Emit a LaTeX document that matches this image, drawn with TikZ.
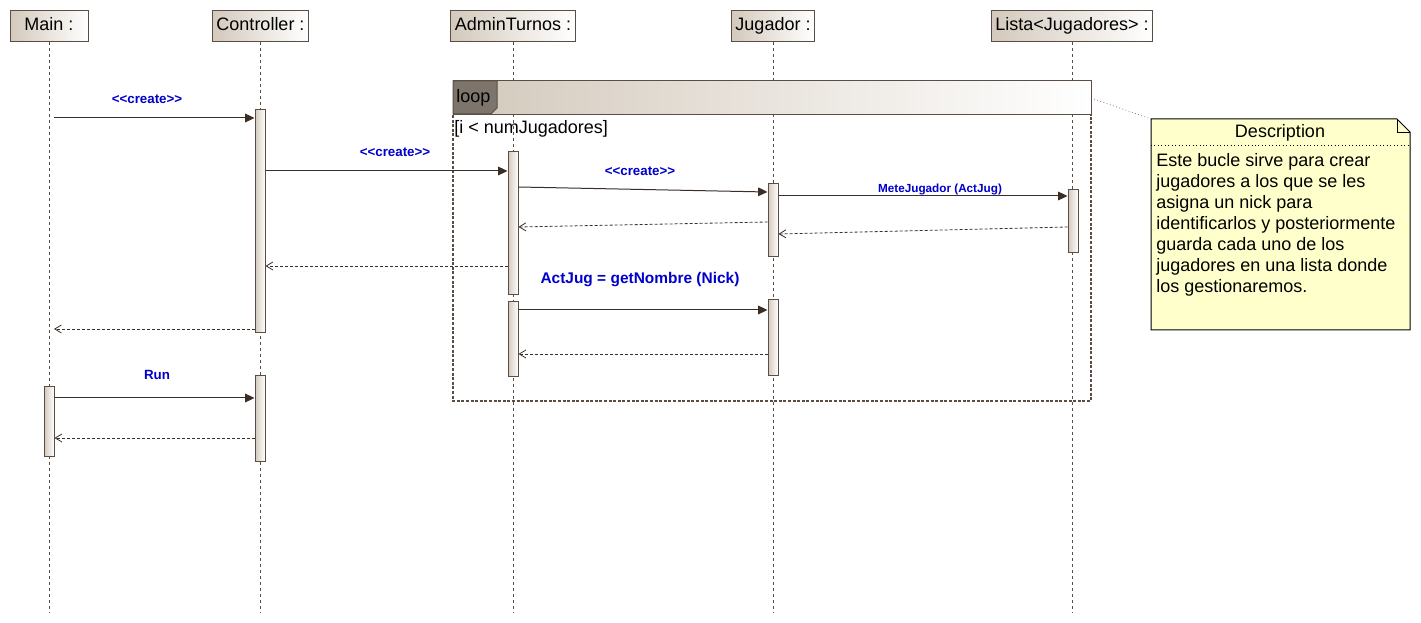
\documentclass[tikz,border=0pt]{standalone}
\usepackage{fontspec}
\setmainfont{Liberation Sans}
\usetikzlibrary{arrows.meta}
\definecolor{edge}{HTML}{5A4E44}
\definecolor{ink}{HTML}{3A2E26}
\definecolor{tan}{HTML}{D3C9BC}
\definecolor{msgblue}{HTML}{0000CC}
\definecolor{notefill}{HTML}{FFFFCC}
\definecolor{tabgrey}{HTML}{7D756C}
\def\actbar(#1)(#2:#3:#4){\node[bar, minimum height={(#4-#3)*0.75pt}] (#1) at (#2,{(#3+#4)/2}) {};}

\begin{document}
\begin{tikzpicture}[x=0.75pt, y=-0.75pt,
	head/.style={draw=edge, line width=0.75pt, left color=tan, right color=white, minimum width=58.5pt, minimum height=23.25pt, inner xsep=3pt, text height=9.8pt, text depth=2.8pt, font=\fontsize{13.5}{16}\selectfont},
	lifeline/.style={draw=edge, line width=0.6pt, dash pattern=on 2.25pt off 2.25pt},
	bar/.style={draw=edge, line width=0.75pt, left color=tan, right color=white, minimum width=7.5pt, inner sep=0pt},
	msg/.style={draw=ink, line width=0.75pt, -{Triangle[length=7pt,width=6.5pt]}},
	ret/.style={draw=ink, line width=0.6pt, dash pattern=on 2.25pt off 1.5pt, -{Straight Barb[length=5pt,width=6pt]}},
	lbl/.style={text=msgblue, font=\bfseries\fontsize{10}{12}\selectfont}]
		%%%%% START %%%%%
		\useasboundingbox (0,0) rectangle (1421,623);
		\coordinate (bot) at (0,613);
		
		% lifelines
		\node[head] (main) at (49,26) {Main :};
		\node[head] (ctl) at (260.5,26) {Controller :};
		\node[head] (adm) at (513,26) {AdminTurnos :};
		\node[head] (jug) at (773,26) {Jugador :};
		\node[head] (lst) at (1072,26) {Lista<Jugadores> :};
		\foreach \n in {main,ctl,adm,jug,lst}
			\draw[lifeline] (\n.south) -- (\n |- bot);
		
		% loop frame
		\draw[draw=edge, line width=1pt, dash pattern=on 2.25pt off 1.2pt] (453,115) -- (453,401) -- (1091,401) -- (1091,115);
		\draw[draw=edge, line width=0.75pt, left color=tan, right color=white] (453,81) rectangle (1091,115);
		\draw[draw=edge, line width=0.75pt, fill=tabgrey] (453,81) -- (497,81) -- (497,108) -- (491,114) -- (453,114) -- cycle;
		\node[anchor=west, inner sep=0pt, font=\fontsize{13.5}{16}\selectfont] (looptag) at (456,98) {loop};
		\node[anchor=west, inner sep=0pt, font=\fontsize{13.5}{16}\selectfont] (guard) at (454,129) {[i < numJugadores]};
		
		% activations
		\actbar(ctlA)(260:110:333)
		\actbar(ctlB)(260:376:462)
		\actbar(admA)(513:152:295)
		\actbar(admB)(513:302:377)
		\actbar(jugA)(773:184:257)
		\actbar(jugB)(773:300:376)
		\actbar(lstA)(1073:190:253)
		\actbar(mainA)(49:387:457)
		
		% messages
		\draw[msg] ([xshift=3.75pt]main |- 0,118) -- (ctlA.west |- 0,118);
		\node[lbl] (l1) at (147,99) {<{}<create>{}>};
		\draw[msg] (ctlA.east |- 0,171) -- (admA.west |- 0,171);
		\node[lbl] (l2) at (395,152) {<{}<create>{}>};
		\draw[msg] (admA.east |- 0,187) -- (jugA.west |- 0,192);
		\node[lbl] (l3) at (640,171) {<{}<create>{}>};
		\draw[msg] (jugA.east |- 0,196) -- (lstA.west |- 0,196);
		\node[lbl, font=\bfseries\fontsize{8.8}{10}\selectfont] (l4) at (940,189) {MeteJugador (ActJug)};
		\draw[ret] (lstA.west |- 0,227) -- (jugA.east |- 0,234);
		\draw[ret] (jugA.west |- 0,222) -- (admA.east |- 0,227);
		\draw[ret] (admA.west |- 0,266) -- (ctlA.east |- 0,266);
		\draw[ret] (ctlA.west |- 0,329) -- ([xshift=3.75pt]main |- 0,329);
		
		\node[lbl, font=\bfseries\fontsize{11.6}{14}\selectfont] (l5) at (640,280) {ActJug = getNombre (Nick)};
		\draw[msg] (admB.east |- 0,310) -- (jugB.west |- 0,310);
		\draw[ret] (jugB.west |- 0,354) -- (admB.east |- 0,354);
		
		\draw[msg] (mainA.east |- 0,398) -- (ctlB.west |- 0,398);
		\node[lbl] (l6) at (157,375) {Run};
		\draw[ret] (ctlB.west |- 0,438) -- (mainA.east |- 0,438);
		
		% note
		\draw[line width=0.75pt, fill=notefill] (1151,119) -- (1397,119) -- (1410,132) -- (1410,330) -- (1151,330) -- cycle;
		\draw[line width=0.6pt] (1397,119) -- (1397,132) -- (1410,132);
		\draw[line width=0.6pt, dotted] (1151,145) -- (1410,145);
		\node[font=\fontsize{13.5}{16}\selectfont] (desc) at (1280,133) {Description};
		\node[anchor=north west, inner sep=0pt, align=left, font=\fontsize{13.5}{15.75}\selectfont] (desctext) at (1156,153)
			{Este bucle sirve para crear\\jugadores a los que se les\\asigna un nick para\\identificarlos y posteriormente\\guarda cada uno de los\\jugadores en una lista donde\\los gestionaremos.};
		\coordinate (loopR) at (1091,98);
		\coordinate (noteNW) at (1151,119);
		\draw[draw=edge, line width=0.5pt, dotted] (loopR) -- (noteNW);
		
		%%%%% END %%%%%
	\end{tikzpicture}
\end{document}
